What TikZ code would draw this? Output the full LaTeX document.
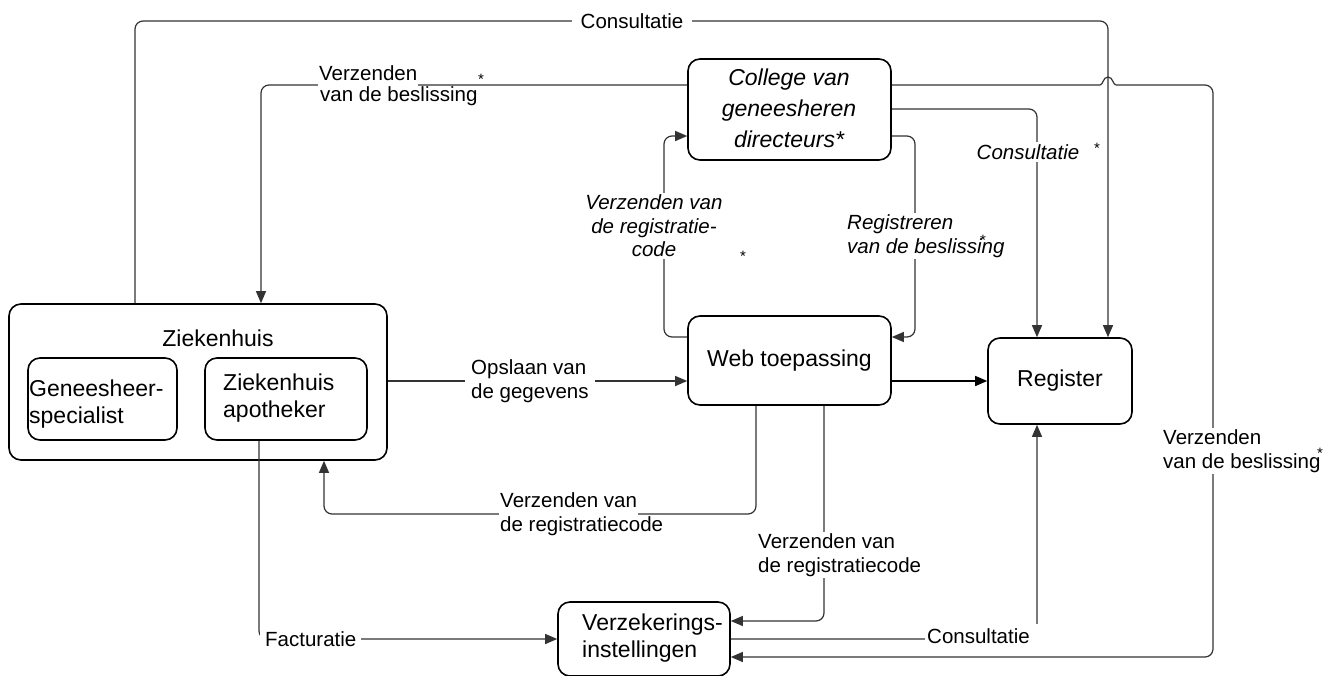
\documentclass[tikz,border=0pt]{standalone}
\usepackage{fontspec}
\setmainfont{Liberation Sans}
\usetikzlibrary{arrows.meta,calc}
\begin{document}
\begin{tikzpicture}[x=1pt,y=-1pt,
  box/.style={draw=black, line width=1.6pt, rounded corners=12pt, inner sep=0pt, font=\fontsize{23}{27}\selectfont},
  btxt/.style={font=\fontsize{23}{27}\selectfont, inner sep=0pt, align=left},
  lbl/.style={font=\fontsize{20.5}{23.5}\selectfont, inner sep=2pt, align=left},
  ilbl/.style={font=\fontsize{20.5}{23.5}\selectfont\itshape, inner sep=2pt},
  wl/.style={lbl, fill=white, inner xsep=6pt},
  conn/.style={draw=black!80, line width=1.2pt, rounded corners=8pt},
  arr/.style={conn, -{Triangle[length=12pt,width=10pt]}},
  star/.style={font=\fontsize{15}{15}\selectfont, inner sep=0pt}
]
\useasboundingbox (0,0) rectangle (1339,675);

% boxes
\node[box, minimum width=378pt, minimum height=156pt] (zh) at (198,382) {};
\node[btxt] (zht) at (218,338) {Ziekenhuis};
\node[box, minimum width=149pt, minimum height=82pt] (gs) at (102.5,399) {};
\node[btxt, anchor=west] (gst) at (29,404) {Geneesheer-\\specialist};
\node[box, minimum width=162pt, minimum height=82pt] (apo) at (286,399) {};
\node[btxt, anchor=west] (apot) at (223,398) {Ziekenhuis\\apotheker};
\node[box, minimum width=203pt, minimum height=101pt] (col) at (789.5,109.5) {};
\node[btxt, font=\fontsize{23}{31}\selectfont\itshape, align=center] (colt) at (789,108) {College van\\geneesheren\hspace*{26pt}\\directeurs*};
\node[box, minimum width=203pt, minimum height=89pt] (web) at (789.5,360.5) {Web toepassing};
\node[box, minimum width=144pt, minimum height=86pt] (reg) at (1060,381) {Register};
\node[box, minimum width=172pt, minimum height=74pt] (verz) at (644,639) {};
\node[btxt, anchor=west] (verzt) at (582,638) {Verzekerings-\\instellingen};

% connectors
\coordinate (t1) at (135,21); \coordinate (t2) at (1108,21);
\draw[arr] (zh.north -| t1) -- (t1) -- (t2) -- (reg.north -| t2);

\coordinate (b1) at (261,85);
\draw[arr] (col.west |- b1) -- (b1) -- (zh.north -| b1);

% connector with a hop over the vertical Consultatie line
\coordinate (h0) at (1100,85); \coordinate (h3) at (1116,85);
\coordinate (h1) at (1213,85); \coordinate (h2) at (1213,657);
\draw[conn, sharp corners] (col.east |- h1) -- (h0) .. controls (1103,85) and (1103,77) .. (1108,77) .. controls (1113,77) and (1113,85) .. (h3);
\draw[arr] (h3) -- (h1) -- (h2) -- (verz.east |- h2);

\coordinate (c1) at (1037,109);
\draw[arr] (col.east |- c1) -- (c1) -- (reg.north -| c1);
\coordinate (c2) at (915,136); \coordinate (c3) at (915,337);
\draw[arr] (col.east |- c2) -- (c2) -- (c3) -- (web.east |- c3);
\coordinate (w1) at (664,337); \coordinate (w2) at (664,136);
\draw[arr] (web.west |- w1) -- (w1) -- (w2) -- (col.west |- w2);
\coordinate (o1) at (400,381);
\draw[arr] (zh.east |- o1) -- (web.west |- o1);
\coordinate (r1) at (900,381);
\draw[arr, draw=black, line width=1.5pt] (web.east |- r1) -- (reg.west |- r1);
\coordinate (d1) at (756,514); \coordinate (d2) at (324,514);
\draw[arr] (web.south -| d1) -- (d1) -- (d2) -- (zh.south -| d2);
\coordinate (e1) at (824,621);
\draw[arr] (web.south -| e1) -- (e1) -- (verz.east |- e1);
\coordinate (f1) at (259,639);
\draw[arr] (apo.south -| f1) -- (f1) -- (verz.west |- f1);
\coordinate (g1) at (1037,639);
\draw[arr] (verz.east |- g1) -- (g1) -- (reg.south -| g1);

% labels
\node[wl, inner xsep=9pt] (l1) at (632,21) {Consultatie};
\node[lbl, fill=white, anchor=base west, inner xsep=1pt] (l2a) at (318,80) {\strut Verzenden};
\node[lbl, anchor=base west] (l2b) at (318,101) {van de beslissing};
\node[star] (s1) at (481,79) {*};
\node[ilbl, fill=white] (l3) at (1028,152) {Consultatie};
\node[star] (s2) at (1097,148) {*};
\node[ilbl, fill=white, anchor=west, align=left] (l4) at (845,236) {Registreren\\van de beslissing};
\node[star] (s3) at (983,240) {*};
\node[ilbl, fill=white, align=center] (l5) at (654,226) {Verzenden van\\de registratie-\\code};
\node[star] (s4) at (743,256) {*};
\node[wl, anchor=west] (l6) at (465,381) {Opslaan van\\de gegevens};
\node[lbl, fill=white, anchor=base west, inner xsep=1pt] (l7a) at (499,507) {\strut Verzenden van};
\node[lbl, anchor=base west] (l7b) at (498,531) {de registratiecode};
\node[wl, anchor=west] (l8) at (752,555) {Verzenden van\\de registratiecode};
\node[lbl, fill=white, anchor=west, inner xsep=5pt] (l9) at (260,639) {Facturatie};
\node[lbl, fill=white, anchor=west, text width=112pt, inner xsep=2pt, inner ysep=3pt] (l10) at (925,639) {\strut Consultatie};
\node[wl, anchor=west] (l11) at (1157,451) {Verzenden\\van de beslissing};
\node[star] (s5) at (1320,453) {*};
\end{tikzpicture}
\end{document}
